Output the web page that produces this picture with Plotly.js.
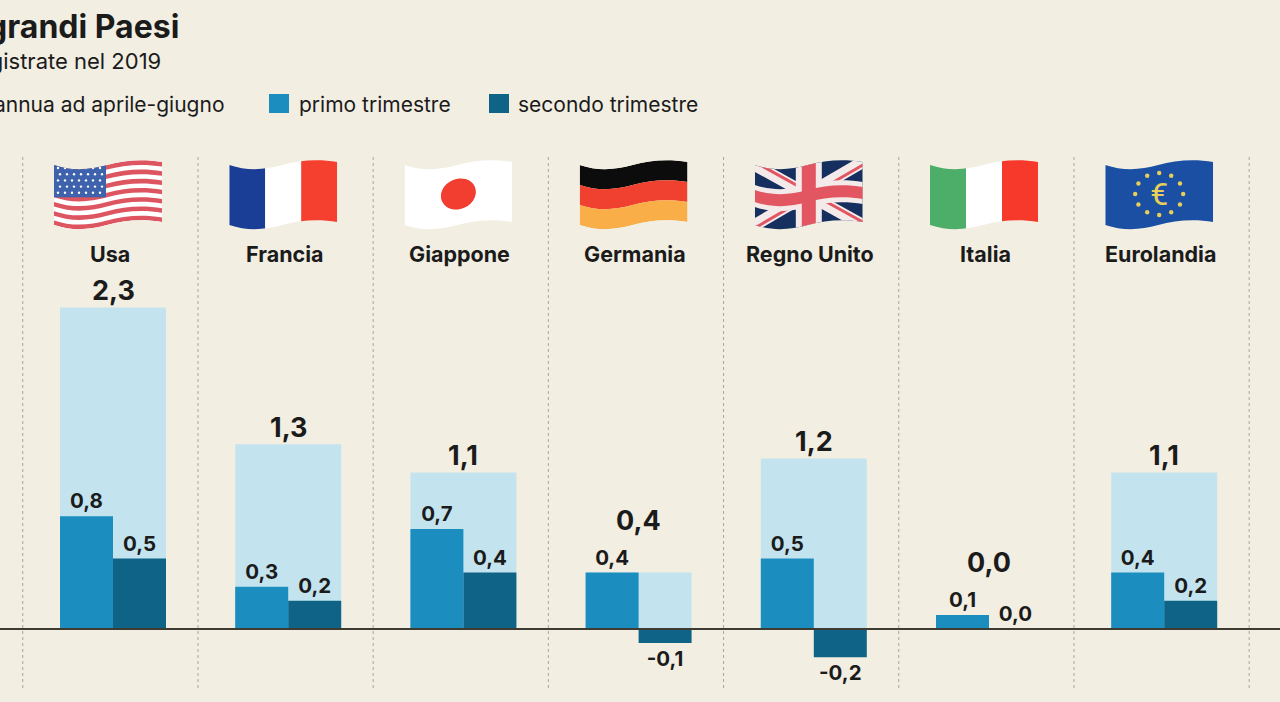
<!DOCTYPE html>
<html>
<head>
<meta charset="utf-8">
<script src="https://cdn.plot.ly/plotly-3.0.1.min.js"></script>
<style>html,body{margin:0;padding:0;background:#f2eee2;overflow:hidden}#chart{width:1280px;height:702px}</style>
</head>
<body>
<div id="chart"></div>
<script>
const countries = ["Usa", "Francia", "Giappone", "Germania", "Regno Unito", "Italia", "Eurolandia"];
const annual = [2.28, 1.31, 1.11, 0.4, 1.21, 0.0, 1.11];
const primoTrimestre = [0.8, 0.3, 0.71, 0.4, 0.5, 0.1, 0.4];
const secondoTrimestre = [0.5, 0.2, 0.4, -0.1, -0.2, 0.0, 0.2];

const BG = "#f2eee2", INK = "#1b1b1b", FONT = "Inter, sans-serif";
const LIGHT = "#c3e4ef", MID = "#1c8dbf", DARK = "#0f6387";
const fmt = v => v.toFixed(1).replace(".", ",");
const idx = countries.map((_, i) => i);

// ---- wavy flags as inline SVG images
function band(a, b) {
  return `M0,${6+a} C18,${12+a} 35,${11+a} 53,${6+a} C70,${1+a} 90,${a} 108,${3+a} ` +
         `L108,${3+b} C90,${b} 70,${1+b} 53,${6+b} C35,${11+b} 18,${12+b} 0,${6+b} Z`;
}
const H = 60;
function wrap(inner) {
  const svg = `<svg xmlns="http://www.w3.org/2000/svg" width="108" height="72" viewBox="0 0 108 72">` +
    `<defs><clipPath id="c"><path d="${band(0, H)}"/></clipPath></defs><g clip-path="url(#c)">${inner}</g></svg>`;
  return "data:image/svg+xml;charset=utf-8," + encodeURIComponent(svg);
}
function usFlag() {
  let s = `<rect width="108" height="72" fill="#fff"/>`;
  const st = H / 13;
  for (let i = 0; i < 13; i += 2) s += `<path d="${band(i * st, (i + 1) * st)}" fill="#dd5560"/>`;
  s += `<rect x="0" y="0" width="52" height="${6 + st * 7}" fill="#3f62ad"/>`;
  for (let r = 0; r < 5; r++) for (let c = 0; c < 7; c++)
    s += `<circle cx="${4 + c * 7 + (r % 2) * 2}" cy="${9 + r * 6.2}" r="1.2" fill="#fff"/>`;
  return wrap(s);
}
function tri(a, b, c) {
  return wrap(`<rect width="36" height="72" fill="${a}"/><rect x="36" width="36" height="72" fill="${b}"/><rect x="72" width="36" height="72" fill="${c}"/>`);
}
function jpFlag() {
  return wrap(`<rect width="108" height="72" fill="#fff"/><ellipse cx="54" cy="35" rx="18" ry="15" transform="rotate(-25 54 35)" fill="#f23e30"/>`);
}
function deFlag() {
  return wrap(`<path d="${band(0, 20)}" fill="#0c0c0c"/><path d="${band(20, 40)}" fill="#f0402f"/><path d="${band(40, 60)}" fill="#f9ae47"/>`);
}
function ukFlag() {
  return wrap(`<rect width="108" height="72" fill="#15305f"/>` +
    `<path d="M0,6 L108,66 M0,66 L108,3" stroke="#f5eaea" stroke-width="12"/>` +
    `<path d="M0,3 L108,63 M0,69 L108,6" stroke="#e25662" stroke-width="3"/>` +
    `<rect x="41" width="26" height="72" fill="#f5eaea"/><path d="${band(20, 42)}" fill="#f5eaea"/>` +
    `<rect x="47" width="14" height="72" fill="#e25662"/><path d="${band(25, 37)}" fill="#e25662"/>`);
}
function euFlag() {
  let s = `<rect width="108" height="72" fill="#1b4fa4"/>`;
  for (let i = 0; i < 12; i++) {
    const t = i * Math.PI / 6;
    s += `<circle cx="${54 + 24 * Math.cos(t)}" cy="${35 + 21 * Math.sin(t)}" r="2.2" fill="#e9cf58"/>`;
  }
  s += `<text x="54" y="46" text-anchor="middle" font-family="Roboto, sans-serif" font-size="32" fill="#e9cf58">€</text>`;
  return wrap(s);
}
const flags = [usFlag(), tri("#1a3e96", "#ffffff", "#f5402f"), jpFlag(), deFlag(), ukFlag(),
               tri("#4dae69", "#ffffff", "#f7392b"), euFlag()];

const images = flags.map((src, i) => ({
  source: src, xref: "x", yref: "paper", x: i - 5 / 175.2, y: 1 - 159 / 702,
  sizex: 108 / 175.2, sizey: 72 / 702, xanchor: "center", yanchor: "top", sizing: "stretch", layer: "above"
}));

// ---- separators, baseline, legend swatches
const shapes = [];
for (let i = 0; i <= 7; i++) {
  shapes.push({ type: "line", xref: "x", yref: "paper", x0: i - 0.515, x1: i - 0.515,
    y0: 1 - 688 / 702, y1: 1 - 157 / 702, layer: "below",
    line: { color: "#a9a69c", width: 1, dash: "dot" } });
}
shapes.push({ type: "line", xref: "paper", x0: 0, x1: 1, yref: "y", y0: 0, y1: 0, layer: "above",
  line: { color: "#3e3b33", width: 2 } });
[[269, MID], [489, DARK]].forEach(([px, color]) => shapes.push({
  type: "rect", xref: "paper", yref: "paper", line: { width: 0 }, fillcolor: color,
  x0: px / 1280, x1: (px + 20) / 1280, y0: 1 - 113 / 702, y1: 1 - 94 / 702 }));

// ---- text
const text = (t, px, py, size, anchor, bold) => ({
  text: bold ? `<b>${t}</b>` : t, xref: "paper", yref: "paper", x: px / 1280, y: 1 - py / 702,
  xanchor: anchor, yanchor: "middle", showarrow: false, font: { family: FONT, size, color: INK }
});
const annotations = [
  text("grandi Paesi", 181, 27, 32, "right", true),
  text("registrate nel 2019", 163, 61, 22, "right", false),
  text("annua ad aprile-giugno", 227, 104, 21, "right", false),
  text("primo trimestre", 297, 104, 21, "left", false),
  text("secondo trimestre", 516, 104, 21, "left", false)
];
countries.forEach((c, i) => annotations.push({
  text: `<b>${c}</b>`, xref: "x", yref: "paper", x: i - 3.5 / 175.2, y: 1 - 254 / 702, xanchor: "center", yanchor: "middle",
  showarrow: false, font: { family: FONT, size: 21.5, color: INK }
}));
annual.forEach((v, i) => {
  const onBar = v > primoTrimestre[i];
  annotations.push({
    text: `<b>${fmt(v)}</b>`, xref: "x", yref: "y", x: i, y: onBar ? v : primoTrimestre[i],
    yshift: onBar ? 17 : 52, xanchor: "center", yanchor: "middle", showarrow: false,
    font: { family: FONT, size: 27, color: INK }
  });
});

const W = 106 / 175.2;
const bar = (name, y, color, offset, width, labelled) => ({
  type: "bar", name, x: idx, y, width, offset, marker: { color, line: { width: 0 } },
  text: labelled ? y.map(fmt) : undefined, textposition: labelled ? "outside" : "none",
  textfont: { family: FONT, size: 20.5, color: INK, weight: 700 },
  cliponaxis: false, constraintext: "none", hoverinfo: "skip"
});
const traces = [
  bar("annua ad aprile-giugno", annual, LIGHT, -W / 2, W, false),
  bar("primo trimestre", primoTrimestre, MID, -W / 2, W / 2, true),
  bar("secondo trimestre", secondoTrimestre, DARK, 0, W / 2, true)
];

const layout = {
  width: 1280, height: 702, margin: { l: 0, r: 0, t: 0, b: 0, pad: 0 },
  paper_bgcolor: BG, plot_bgcolor: BG, showlegend: false, barmode: "overlay",
  xaxis: { range: [-113 / 175.2, (1280 - 113) / 175.2], visible: false, fixedrange: true },
  yaxis: { range: [-73 / 141, 629 / 141], visible: false, fixedrange: true },
  shapes, annotations, images
};
Plotly.newPlot("chart", traces, layout, { displayModeBar: false, staticPlot: true });
</script>
</body>
</html>
